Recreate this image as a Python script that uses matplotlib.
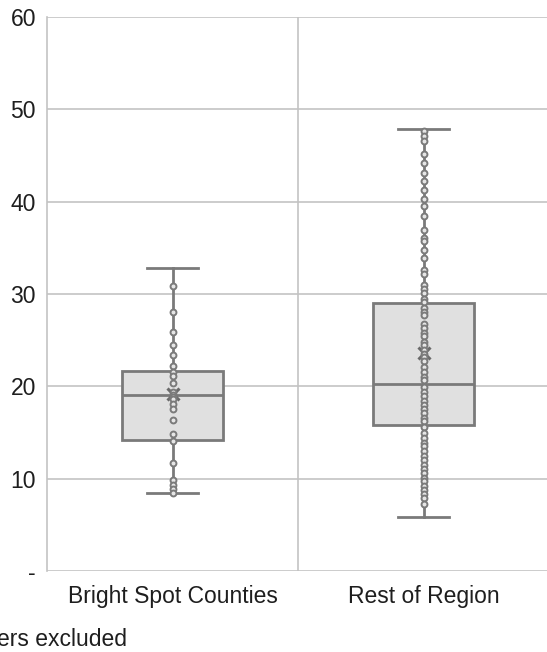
import matplotlib
matplotlib.use("Agg")
import matplotlib.pyplot as plt
import numpy as np

plt.rcParams["font.family"] = ["Liberation Sans", "DejaVu Sans"]

categories = ["Bright Spot Counties", "Rest of Region"]

# box statistics
whisker_lo = [8.4, 5.8]
q1 = [14.2, 15.8]
median = [19.05, 20.3]
q3 = [21.7, 29.0]
whisker_hi = [32.8, 47.9]
means = [19.2, 23.6]

# individual county values (points drawn on the box centre)
bright_spot = [30.9, 28.0, 25.9, 24.5, 23.4, 22.2, 21.6, 21.1, 20.4, 19.4,
               19.1, 18.85, 18.6, 18.1, 17.55, 16.3, 14.8, 14.1, 11.7, 9.9,
               9.3, 8.9, 8.5]
rest_of_region = [47.6, 47.1, 46.6, 45.2, 44.2, 43.1, 42.2, 41.3, 40.3, 39.5,
                  38.5, 36.9, 36.1, 35.7, 34.8, 33.9, 32.6, 32.2, 31.0, 30.5,
                  30.1, 29.5, 29.1, 28.5, 28.1, 27.7, 26.8, 26.3, 25.8, 25.4,
                  24.8, 24.5, 23.9, 23.5, 23.2, 22.7, 22.1, 21.6, 21.0, 20.7,
                  19.9, 19.4, 18.95, 18.45, 18.0, 17.5, 17.1, 16.6, 16.2, 15.6,
                  14.9, 14.4, 13.9, 13.5, 13.0, 12.5, 12.0, 11.5, 11.05, 10.6,
                  10.1, 9.7, 9.2, 8.8, 8.3, 7.9, 7.3]
points = [bright_spot, rest_of_region]

yticks = [0, 10, 20, 30, 40, 50, 60]
ytick_labels = ["-", "10", "20", "30", "40", "50", "60"]

line_c = "#7a7a7a"
grid_c = "#c3c3c3"
text_c = "#1e1e1e"

fig = plt.figure(figsize=(5.47, 6.52), dpi=100)
ax = fig.add_axes([47 / 547, 81 / 652, 502 / 547, 554 / 652])

stats = []
for i, name in enumerate(categories):
    stats.append({"label": name, "whislo": whisker_lo[i], "q1": q1[i],
                  "med": median[i], "q3": q3[i], "whishi": whisker_hi[i],
                  "mean": means[i]})

ax.bxp(stats, positions=[0, 1], widths=0.4, patch_artist=True,
       showmeans=True, showfliers=False,
       boxprops=dict(facecolor="#e0e0e0", edgecolor=line_c, linewidth=2),
       medianprops=dict(color=line_c, linewidth=2),
       whiskerprops=dict(color=line_c, linewidth=2),
       capprops=dict(color=line_c, linewidth=2),
       meanprops=dict(marker="x", markeredgecolor="#6a6a6a",
                      markersize=8, markeredgewidth=2.2),
       zorder=3)

for i, vals in enumerate(points):
    ax.scatter(np.full(len(vals), i), vals, s=18, facecolor="#e6e6e6",
               edgecolor=line_c, linewidth=1.4, zorder=4)

ax.set_xlim(-0.5, 1.5)
ax.set_ylim(0, 60)
ax.set_yticks(yticks)
ax.set_yticklabels(ytick_labels)
ax.set_xticks([0, 1])
ax.set_xticklabels(categories)
ax.tick_params(length=0, labelsize=16.5, colors=text_c)
ax.tick_params(axis="y", pad=8)
ax.tick_params(axis="x", pad=10)

ax.yaxis.grid(True, color=grid_c, linewidth=1.2, zorder=0)
ax.axvline(0.5, color=grid_c, linewidth=1.2, zorder=0)
ax.set_axisbelow(True)
for side in ["top", "right", "bottom"]:
    ax.spines[side].set_visible(False)
ax.spines["left"].set_color(grid_c)
ax.spines["left"].set_linewidth(1.2)

# footnote runs off the left edge, as in the source image
fig.text(127 / 547, 6 / 652, "Outliers excluded", ha="right", va="baseline",
         fontsize=16.5, color=text_c)

fig.savefig("out.png", dpi=100)
